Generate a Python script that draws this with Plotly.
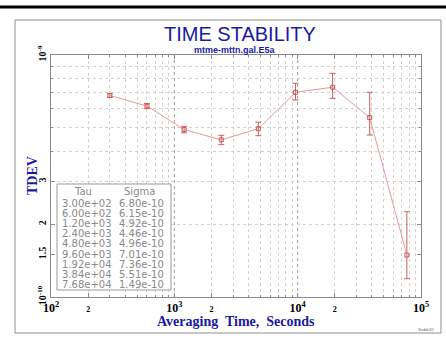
import plotly.graph_objects as go

# ---- data ----
tau = [300, 600, 1200, 2400, 4800, 9600, 19200, 38400, 76800]
sigma = [6.80e-10, 6.15e-10, 4.92e-10, 4.46e-10, 4.96e-10, 7.01e-10, 7.36e-10, 5.51e-10, 1.49e-10]
sigma_hi = [6.92e-10, 6.30e-10, 5.07e-10, 4.66e-10, 5.28e-10, 7.64e-10, 8.40e-10, 7.01e-10, 2.25e-10]
sigma_lo = [6.68e-10, 6.00e-10, 4.77e-10, 4.26e-10, 4.64e-10, 6.52e-10, 6.62e-10, 4.67e-10, 1.19e-10]

x_tickvals = [100, 200, 1000, 2000, 10000, 20000, 100000]
x_ticktext = ["<b>10<sup>2</sup></b>", "<b><span style='font-size:8px'>2</span></b>", "<b>10<sup>3</sup></b>",
              "<b><span style='font-size:8px'>2</span></b>", "<b>10<sup>4</sup></b>",
              "<b><span style='font-size:8px'>2</span></b>", "<b>10<sup>5</sup></b>"]
y_tickvals = [1e-10, 1.5e-10, 2e-10, 3e-10, 1e-9]
y_ticktext = ["<b>10<sup>-10</sup></b>", "<b>1.5</b>", "<b>2</b>", "<b>3</b>", "<b>10<sup>-9</sup></b>"]
major_x = [1000, 10000]

title = "TIME STABILITY"
subtitle = "mtme-mttn.gal.E5a"
xtitle = "Averaging  Time,  Seconds"
ytitle = "TDEV"

BLUE = "#1a1a9e"
GRID = "#d2d2d2"
SERIF = "Liberation Serif, Times New Roman, serif"
SANS = "Liberation Sans, Arial, sans-serif"
TABLE = "DejaVu Sans, sans-serif"

x_minor = [m * d for d in (100, 1000, 10000) for m in range(2, 10)]
y_minor = [m * 1e-10 for m in range(2, 10)]

err_plus = [h - s for h, s in zip(sigma_hi, sigma)]
err_minus = [s - l for s, l in zip(sigma, sigma_lo)]

fig = go.Figure()
fig.add_trace(go.Scatter(
    x=tau, y=sigma, mode="lines+markers",
    line=dict(color="#e39a9a", width=1),
    marker=dict(symbol="square-open", size=4, color="#cc5555", line=dict(width=1)),
    error_y=dict(type="data", symmetric=False, array=err_plus, arrayminus=err_minus,
                 color="#cc6060", thickness=1, width=3),
    showlegend=False,
))

# plot area px: x 51-421, y 55-297
L, R, T, B = 51, 25, 55, 66
PW, PH = 446 - L - R, 363 - T - B


def px(xp):
    return (xp - L) / PW


def py(yp):
    return (T + PH - yp) / PH


shapes = []
for xv in major_x:
    shapes.append(dict(type="line", xref="x", yref="paper", x0=xv, x1=xv, y0=0, y1=1,
                       line=dict(color="#9a9a9a", width=1, dash="dot"), layer="below"))
# outer frame
shapes.append(dict(type="rect", xref="paper", yref="paper",
                   x0=px(15), x1=px(441), y0=py(333), y1=py(20),
                   line=dict(color="#909090", width=1), layer="below"))
# top black rule
shapes.append(dict(type="line", xref="paper", yref="paper",
                   x0=px(0), x1=px(446), y0=py(7), y1=py(7),
                   line=dict(color="black", width=3)))
# table box
shapes.append(dict(type="rect", xref="paper", yref="paper",
                   x0=px(57), x1=px(171), y0=py(290), y1=py(184),
                   fillcolor="white", line=dict(color="#9a9a9a", width=1), layer="above"))


def A(text, x, y, font, xanchor="center", **kw):
    return dict(text=text, x=px(x), y=py(y), xref="paper", yref="paper",
                xanchor=xanchor, yanchor="middle", showarrow=False, font=font, **kw)


ann = []
ann.append(A(title, 240, 34.5, dict(family=SANS, size=20, color=BLUE)))
ann.append(A("<b>" + subtitle + "</b>", 235, 49.5, dict(family=SANS, size=9, color=BLUE)))
ann.append(A("<b>" + xtitle + "</b>", 236, 321, dict(family=SERIF, size=14, color=BLUE)))
ann.append(A("<b>" + ytitle + "</b>", 32, 176, dict(family=SERIF, size=14, color=BLUE), textangle=-90))
ann.append(A("Stable32", 426, 330, dict(family=SANS, size=4, color="#666")))

TF = dict(family=TABLE, size=10, color="#8a8a8a")
ann.append(A("Tau", 83, 191.5, TF))
ann.append(A("Sigma", 139, 191.5, TF))
for i, (t, s) in enumerate(zip(tau, sigma)):
    yy = 203.5 + i * 10.1
    ann.append(A(f"{t:.2e}", 60, yy, TF, xanchor="left"))
    ann.append(A(f"{s:.2e}", 117, yy, TF, xanchor="left"))

fig.update_layout(
    width=446, height=363,
    margin=dict(l=L, r=R, t=T, b=B),
    paper_bgcolor="white", plot_bgcolor="white",
    shapes=shapes, annotations=ann,
    xaxis=dict(
        type="log", range=[2, 5],
        tickvals=x_tickvals, ticktext=x_ticktext,
        tickfont=dict(family=SERIF, size=12, color="black"),
        showgrid=False, zeroline=False,
        showline=True, linecolor="#8a8a8a", linewidth=1, mirror="allticks",
        ticks="inside", ticklen=4, tickcolor="#8a8a8a",
        minor=dict(tickvals=x_minor, showgrid=True, gridcolor=GRID, griddash="dot",
                   ticks="inside", ticklen=2, tickcolor="#8a8a8a"),
    ),
    yaxis=dict(
        type="log", range=[-10, -9],
        tickvals=y_tickvals, ticktext=y_ticktext, tickangle=-90,
        tickfont=dict(family=SERIF, size=10, color="black"),
        showgrid=False, zeroline=False,
        showline=True, linecolor="#8a8a8a", linewidth=1, mirror="allticks",
        ticks="inside", ticklen=4, tickcolor="#8a8a8a",
        minor=dict(tickvals=y_minor, showgrid=True, gridcolor=GRID, griddash="dot",
                   ticks="inside", ticklen=2, tickcolor="#8a8a8a"),
    ),
)

fig.write_html("out.html", config={"displayModeBar": False},
               post_script="document.body.style.margin='0';document.body.style.padding='0';"
                           "document.body.style.overflow='hidden';")
